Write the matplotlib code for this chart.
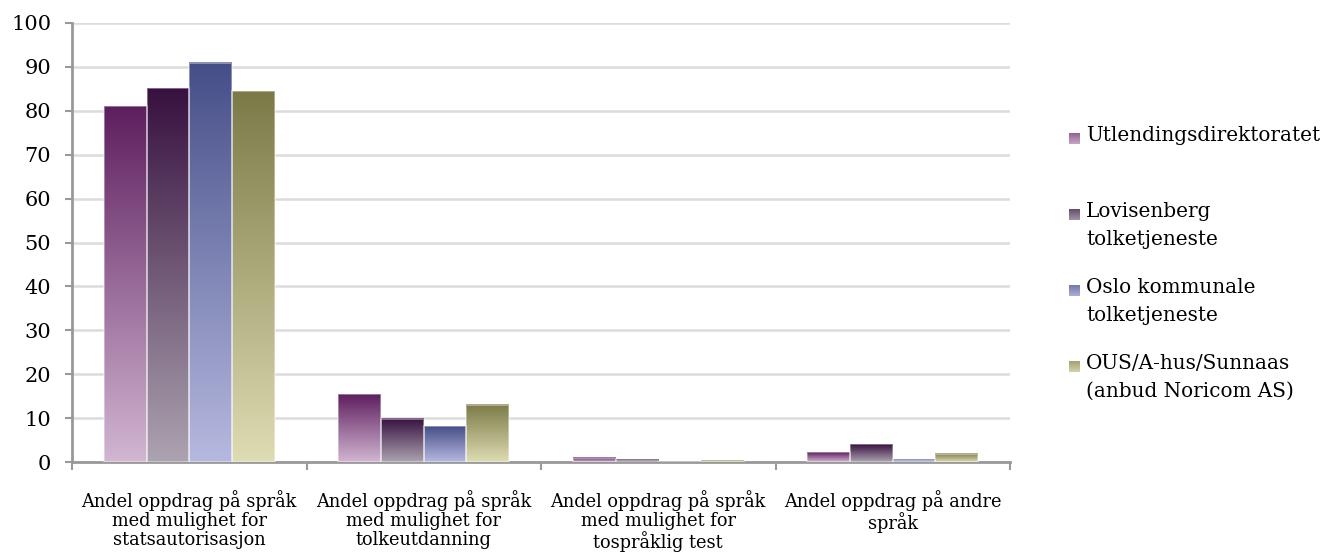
import numpy as np
import matplotlib.pyplot as plt
from matplotlib.colors import LinearSegmentedColormap

plt.rcParams['font.family'] = ['DejaVu Serif']

categories = ['Andel oppdrag på språk\nmed mulighet for\nstatsautorisasjon',
              'Andel oppdrag på språk\nmed mulighet for\ntolkeutdanning',
              'Andel oppdrag på språk\nmed mulighet for\ntospråklig test',
              'Andel oppdrag på andre\nspråk']
series_names = ['Utlendingsdirektoratet',
                'Lovisenberg\ntolketjeneste',
                'Oslo kommunale\ntolketjeneste',
                'OUS/A-hus/Sunnaas\n(anbud Noricom AS)']

udi = [81.0, 15.4, 1.0, 2.2]
lovisenberg = [85.1, 9.8, 0.55, 4.1]
oslo = [91.0, 8.2, 0.0, 0.55]
ous = [84.4, 13.0, 0.4, 1.9]
values = [udi, lovisenberg, oslo, ous]

yticks = list(range(0, 101, 10))

# dark at the top of each bar, fading to light at the bottom
top_colors = ['#5e1f5f', '#37113f', '#454e88', '#7b7a47']
bottom_colors = ['#d2b6d2', '#aca3b0', '#b6b9df', '#dedcb2']
cmaps = [LinearSegmentedColormap.from_list('g%d' % i, [b, t])
         for i, (t, b) in enumerate(zip(top_colors, bottom_colors))]
grad = np.linspace(0, 1, 256).reshape(-1, 1)

fig = plt.figure(figsize=(13.24, 5.6), dpi=100)
ax = fig.add_axes([72 / 1324, 98 / 560, (1010 - 72) / 1324, (462 - 23) / 560])

x = np.arange(len(categories))
w = 0.182
for i, vals in enumerate(values):
    bars = ax.bar(x + (i - 1.5) * w, vals, w, color='none',
                  edgecolor=(1, 1, 1, 0.45), linewidth=1.2, zorder=4)
    for b in bars:
        h = b.get_height()
        if h <= 0:
            continue
        x0 = b.get_x()
        ax.imshow(grad, extent=[x0, x0 + b.get_width(), 0, h], origin='lower',
                  cmap=cmaps[i], aspect='auto', zorder=3, interpolation='bilinear')

ax.set_xlim(-0.5, len(categories) - 0.5)
ax.set_ylim(0, 100)

ax.set_yticks(yticks)
ax.tick_params(axis='y', labelsize=15, length=5, width=1.5, color='#999999', pad=10)
ax.yaxis.grid(True, color='#dcdcdc', linewidth=1.8, zorder=0)
ax.set_axisbelow(True)

ax.set_xticks(np.arange(len(categories) + 1) - 0.5)
ax.set_xticklabels([])
ax.tick_params(axis='x', which='major', length=6, width=1.5, color='#999999')
ax.set_xticks(x, minor=True)
ax.set_xticklabels(categories, minor=True, fontsize=12.8, linespacing=1.08)
ax.tick_params(axis='x', which='minor', length=0, pad=20)

for s in ['top', 'right']:
    ax.spines[s].set_visible(False)
for s in ['left', 'bottom']:
    ax.spines[s].set_color('#999999')
    ax.spines[s].set_linewidth(2)

# legend drawn by hand: gradient squares beside the entry text
first_line_y = [139, 215, 291, 367]
for i, name in enumerate(series_names):
    yc = 560 - first_line_y[i]
    sq = fig.add_axes([1069 / 1324, (yc - 5) / 560, 11 / 1324, 11 / 560])
    sq.imshow(grad, origin='lower', cmap=cmaps[i], aspect='auto',
              vmin=-0.2, vmax=1.8)
    sq.axis('off')
    fig.text(1086 / 1324, (yc + 13) / 560, name, fontsize=14.4, va='top',
             ha='left', linespacing=1.58)

fig.savefig('out.png', dpi=100)
